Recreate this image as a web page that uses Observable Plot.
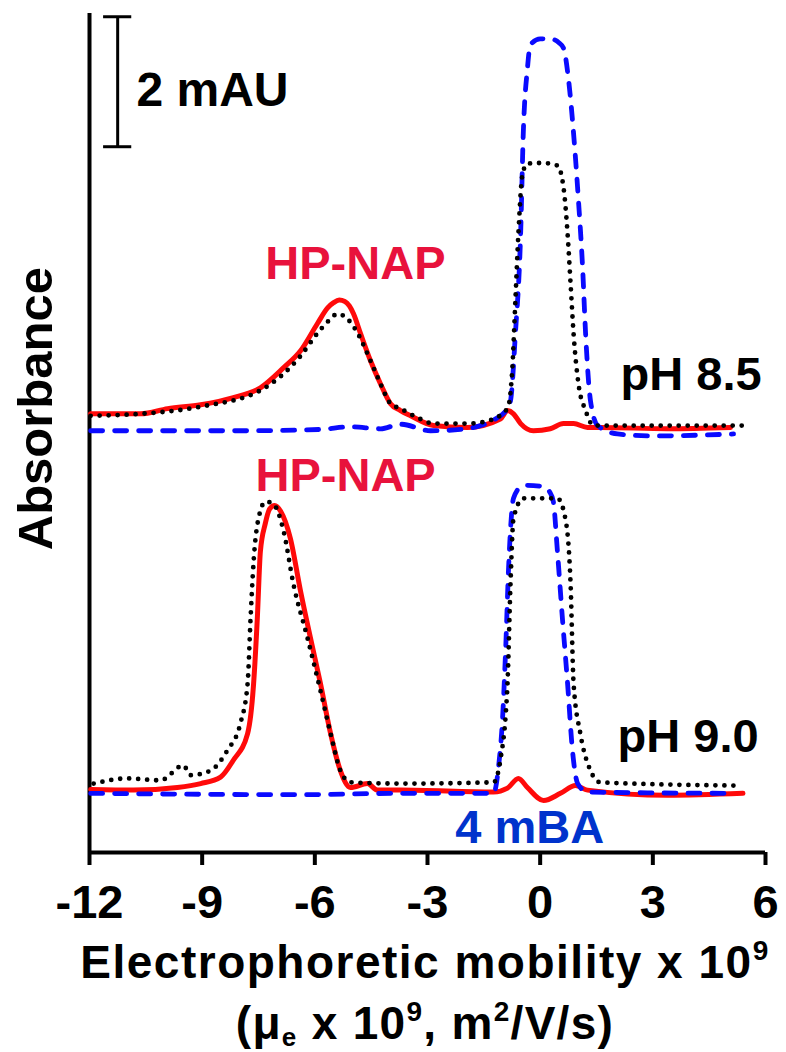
<!DOCTYPE html>
<html><head><meta charset="utf-8">
<script src="https://cdn.jsdelivr.net/npm/d3@7"></script>
<script src="https://cdn.jsdelivr.net/npm/@observablehq/plot@0.6"></script>
<style>body{margin:0;background:#fff} svg{display:block}</style>
</head><body><div id="chart"></div>
<script>
// x ticks
const xTicks = [-12, -9, -6, -3, 0, 3, 6];
// vertical offsets (mAU) of the two stacked electropherograms
const offsetPH85 = 6.49;
const offsetPH90 = 0.91;

// pH 8.5 traces: [mobility, absorbance mAU above baseline]
const ph85Red = [[-11.97,0.26],[-10.64,0.26],[-9.92,0.34],[-9.04,0.40],[-8.17,0.51],[-7.45,0.66],[-6.83,0.97],[-6.38,1.23],[-5.93,1.65],[-5.66,1.89],[-5.50,1.97],[-5.35,2.01],[-5.20,1.99],[-5.08,1.92],[-4.97,1.80],[-4.78,1.49],[-4.52,1.08],[-4.25,0.72],[-3.99,0.42],[-3.72,0.31],[-3.45,0.23],[-2.84,0.08],[-1.94,0.05],[-1.06,0.18],[-0.87,0.31],[-0.71,0.26],[-0.52,0.11],[-0.18,0.0],[0.27,0.03],[0.62,0.11],[0.89,0.11],[1.26,0.05],[1.60,0.05],[3.39,0.03],[5.07,0.05]];
const ph85Black = [[-11.97,0.23],[-10.64,0.26],[-9.04,0.37],[-7.45,0.62],[-6.38,1.15],[-5.93,1.5],[-5.58,1.72],[-5.40,1.8],[-5.13,1.72],[-4.86,1.5],[-4.52,1.08],[-4.25,0.72],[-3.99,0.42],[-3.72,0.34],[-3.19,0.18],[-2.84,0.11],[-1.94,0.11],[-1.40,0.15],[-0.87,0.34],[-0.74,0.97],[-0.66,2.0],[-0.58,3.03],[-0.47,3.95],[-0.34,4.11],[0.06,4.12],[0.46,4.08],[0.62,3.75],[0.73,3.03],[0.81,2.26],[0.89,1.49],[1.02,0.72],[1.21,0.31],[1.42,0.08],[2.48,0.08],[5.41,0.08]];
const ph85Blue = [[-11.97,0.0],[-10.38,0.0],[-7.71,0.0],[-5.85,0.02],[-5.05,0.06],[-4.25,0.03],[-3.72,0.1],[-2.92,0.0],[-2.12,0.02],[-1.14,0.2],[-0.87,0.35],[-0.79,0.46],[-0.66,1.49],[-0.52,3.03],[-0.45,4.57],[-0.34,5.57],[-0.26,5.94],[0.0,6.03],[0.27,6.03],[0.50,5.97],[0.62,5.89],[0.75,5.43],[0.89,4.57],[1.02,3.54],[1.13,2.51],[1.21,1.49],[1.34,0.46],[1.53,0.08],[2.06,-0.05],[3.02,-0.08],[5.15,-0.05]];

// pH 9.0 traces
const ph90Red = [[-11.97,0.06],[-10.83,0.05],[-9.66,0.09],[-9.04,0.15],[-8.51,0.25],[-8.17,0.51],[-7.79,0.92],[-7.63,1.69],[-7.53,2.71],[-7.45,3.72],[-7.32,4.15],[-7.20,4.38],[-7.07,4.43],[-6.91,4.34],[-6.65,3.92],[-6.38,3.11],[-6.12,2.40],[-5.85,1.69],[-5.58,0.92],[-5.32,0.35],[-5.05,0.09],[-4.60,0.15],[-4.33,0.05],[-3.72,0.05],[-1.24,0.02],[-0.87,0.08],[-0.58,0.23],[-0.34,0.09],[0.09,-0.11],[0.54,0.0],[0.94,0.12],[1.26,0.05],[3.39,-0.03],[5.40,0.0]];
const ph90Black = [[-11.89,0.15],[-10.99,0.23],[-10.11,0.2],[-9.50,0.43],[-9.31,0.28],[-8.78,0.35],[-8.33,0.66],[-7.98,1.08],[-7.79,1.69],[-7.71,2.71],[-7.63,3.57],[-7.50,4.23],[-7.31,4.49],[-7.10,4.45],[-6.83,4.03],[-6.57,3.22],[-6.20,2.40],[-5.85,1.58],[-5.58,0.92],[-5.32,0.35],[-5.05,0.17],[-3.72,0.15],[-1.24,0.17],[-1.06,0.51],[-0.87,1.69],[-0.79,3.22],[-0.71,4.23],[-0.45,4.54],[0.01,4.54],[0.46,4.54],[0.67,4.23],[0.81,3.22],[0.89,1.69],[1.07,0.92],[1.34,0.35],[1.60,0.17],[5.15,0.12]];
const ph90Blue = [[-11.97,0.0],[-6.38,-0.02],[-3.72,0.0],[-1.24,0.0],[-1.11,0.4],[-1.00,1.17],[-0.92,2.2],[-0.84,3.48],[-0.71,4.54],[-0.50,4.72],[-0.34,4.74],[0.09,4.72],[0.25,4.64],[0.35,4.49],[0.46,3.72],[0.59,2.71],[0.73,1.69],[0.86,0.66],[1.00,0.15],[1.26,0.02],[5.15,0.0]];

// annotation labels [x, y, text]
const proteinLabels = [[-4.92, 8.83, "HP-NAP"], [-5.18, 5.57, "HP-NAP"]];
const phLabels = [[2.14, 7.11, "pH 8.5"], [2.06, 1.54, "pH 9.0"]];
const markerLabels = [[-2.26, 0.14, "4 mBA"]];
const scaleLabels = [[-10.75, 11.48, "2 mAU"]];
const yTitle = [[-13.41, 6.83, "Absorbance"]];
// scale bar: x, bottom y, length (mAU), half cap width
const scaleBar = {x: -11.25, y: 10.86, length: 2, cap: 0.375};

const rows = (arr, off) => arr.map(([x, y]) => ({x, y: y + off}));
const lab = (arr) => arr.map(([x, y, text]) => ({x, y, text}));

const redStyle = {x: "x", y: "y", stroke: "#ff0a0a", strokeWidth: 5, curve: "monotone-x", strokeLinejoin: "round"};
const blueStyle = {x: "x", y: "y", stroke: "#0a0aff", strokeWidth: 4.8, strokeDasharray: "12 12", strokeLinecap: "round", curve: "monotone-x"};
const blackStyle = {x: "x", y: "y", stroke: "#000", strokeWidth: 4.8, strokeDasharray: "0 9", strokeLinecap: "round", curve: "monotone-x"};

const plot = Plot.plot({
  width: 786,
  height: 1052,
  marginLeft: 89,
  marginRight: 21,
  marginTop: 13,
  marginBottom: 200,
  style: {fontFamily: "'Liberation Sans', Arial, sans-serif", color: "#000", background: "#fff"},
  x: {domain: [-12, 6]},
  y: {domain: [0, 12.91], axis: null},
  marks: [
    Plot.ruleX([-12], {strokeWidth: 4}),
    Plot.ruleY([0], {strokeWidth: 4}),
    Plot.axisX({ticks: xTicks, tickSize: 13, strokeWidth: 4, tickPadding: 19, fontSize: 47, fontWeight: "bold", tickFormat: d => String(d), label: null}),
    // scale bar
    Plot.ruleX([scaleBar], {x: "x", y1: d => d.y, y2: d => d.y + d.length, strokeWidth: 3}),
    Plot.ruleY([scaleBar.y, scaleBar.y + scaleBar.length], {y: d => d, x1: scaleBar.x - scaleBar.cap, x2: scaleBar.x + scaleBar.cap, strokeWidth: 3}),
    // traces
    Plot.line(rows(ph85Red, offsetPH85), redStyle),
    Plot.line(rows(ph90Red, offsetPH90), redStyle),
    Plot.line(rows(ph85Blue, offsetPH85), blueStyle),
    Plot.line(rows(ph90Blue, offsetPH90), blueStyle),
    Plot.line(rows(ph85Black, offsetPH85), blackStyle),
    Plot.line(rows(ph90Black, offsetPH90), blackStyle),
    // labels
    Plot.text(lab(proteinLabels), {x: "x", y: "y", text: "text", fill: "#e8123c", fontSize: 47, fontWeight: "bold", lineAnchor: "bottom"}),
    Plot.text(lab(phLabels), {x: "x", y: "y", text: "text", fill: "#000", fontSize: 47, fontWeight: "bold", lineAnchor: "bottom", textAnchor: "start"}),
    Plot.text(lab(markerLabels), {x: "x", y: "y", text: "text", fill: "#0033cc", fontSize: 47, fontWeight: "bold", lineAnchor: "bottom", textAnchor: "start"}),
    Plot.text(lab(scaleLabels), {x: "x", y: "y", text: "text", fill: "#000", fontSize: 48, fontWeight: "bold", lineAnchor: "bottom", textAnchor: "start"}),
    Plot.text(lab(yTitle), {x: "x", y: "y", text: "text", fill: "#000", fontSize: 49, fontWeight: "bold", rotate: -90})
  ]
});

// x-axis title with superscripts / subscript
const svg = d3.select(plot);
const t1 = svg.append("text").attr("x", 425).attr("y", 978).attr("text-anchor", "middle")
  .attr("font-size", 46).attr("font-weight", "bold").attr("letter-spacing", "1.5px").attr("fill", "#000");
t1.append("tspan").text("Electrophoretic mobility x 10");
t1.append("tspan").attr("font-size", 28).attr("dy", -18).text("9");

const t2 = svg.append("text").attr("x", 425).attr("y", 1039).attr("text-anchor", "middle")
  .attr("font-size", 46).attr("font-weight", "bold").attr("letter-spacing", "1.3px").attr("fill", "#000");
t2.append("tspan").text("(μ");
t2.append("tspan").attr("font-size", 26).attr("dy", 7).text("e");
t2.append("tspan").attr("dy", -7).text(" x 10");
t2.append("tspan").attr("font-size", 28).attr("dy", -18).text("9");
t2.append("tspan").attr("dy", 18).text(", m");
t2.append("tspan").attr("font-size", 28).attr("dy", -18).text("2");
t2.append("tspan").attr("dy", 18).text("/V/s)");

document.getElementById("chart").append(plot);
</script></body></html>
